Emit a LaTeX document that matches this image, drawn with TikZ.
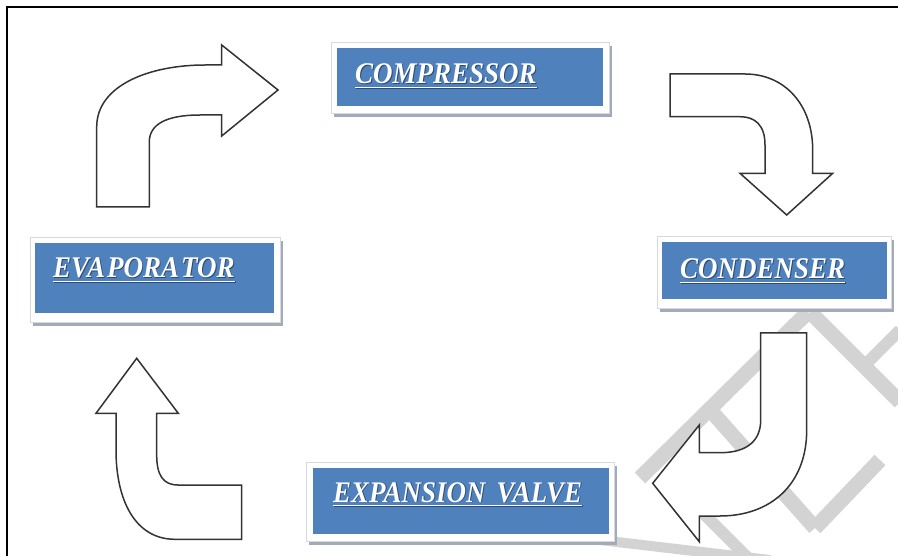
\documentclass[tikz,border=0pt]{standalone}
\usepackage{fontspec}
\newfontfamily\boxfont[FakeStretch=0.9]{Liberation Serif}
\definecolor{boxblue}{HTML}{4F81BD}
\definecolor{boxshade}{HTML}{A3ABB8}
\definecolor{boxedge}{HTML}{D6DAE0}
\definecolor{txtshade}{HTML}{2E4A72}
\definecolor{wmark}{HTML}{D3D3D3}
\tikzset{
  frameline/.style={line width=2pt, black},
  bluebox/.style={rectangle, fill=boxblue, inner sep=0pt},
  outerbox/.style={fill=white, draw=boxedge, line width=0.8pt},
  shadebox/.style={fill=boxshade},
  lbl/.style={inner sep=0pt, text=white, font=\boxfont\bfseries\itshape\fontsize{30}{32}\selectfont},
  lblshade/.style={lbl, text=txtshade},
  uline/.style={white, line width=1.6pt},
  ulineshade/.style={txtshade, line width=1.6pt},
  blockarrow/.style={fill=white, draw=black!80, line width=1.5pt, line join=miter},
  wm/.style={wmark, line width=15pt}
}
\begin{document}
\begin{tikzpicture}[x=1pt,y=-1pt]
\useasboundingbox (0,0) rectangle (898,556);
\fill[white] (0,0) rectangle (898,556);

% faint watermark strokes
\begin{scope}
\clip (0,0) rectangle (898,556);
\draw[wm] (640,478) -- (808,312);
\draw[wm] (810,312) -- (900,402);
\draw[wm, line width=12pt] (862,368) -- (900,330);
\draw[wm] (712,412) -- (815,528);
\draw[wm] (815,528) -- (880,460);
\draw[wm, line width=10pt] (600,540) -- (770,560);
\draw[wm, line width=12pt] (700,510) -- (750,560);
\end{scope}

% outer frame
\draw[frameline] (7,560) -- (7,7) -- (900,7);

% COMPRESSOR box
\fill[shadebox] (334,46) rectangle (612,117);
\filldraw[outerbox] (331,42) rectangle (609,113);
\node[bluebox, minimum width=266pt, minimum height=58pt] (compbox) at (470,77) {};
\node[lblshade, anchor=base west] (compsh) at (355.8,84.8) {COMPRESSOR};
\node[lbl, anchor=base west] (comp) at (355,84) {COMPRESSOR};
\draw[ulineshade] ([shift={(0.8pt,-4.2pt)}]comp.base west) -- ([shift={(0.8pt,-4.2pt)}]comp.base east);
\draw[uline] ([yshift=-3.4pt]comp.base west) -- ([yshift=-3.4pt]comp.base east);

% CONDENSER box
\fill[shadebox] (660,240) rectangle (894,312);
\filldraw[outerbox] (657,236) rectangle (891,308);
\node[bluebox, minimum width=225pt, minimum height=57pt] (condbox) at (774.5,270.5) {};
\node[lblshade, anchor=base west] (condsh) at (680.8,279.8) {CONDENSER};
\node[lbl, anchor=base west] (cond) at (680,279) {CONDENSER};
\draw[ulineshade] ([shift={(0.8pt,-4.2pt)}]cond.base west) -- ([shift={(0.8pt,-4.2pt)}]cond.base east);
\draw[uline] ([yshift=-3.4pt]cond.base west) -- ([yshift=-3.4pt]cond.base east);

% EVAPORATOR box
\fill[shadebox] (33,241) rectangle (283,326);
\filldraw[outerbox] (30,237) rectangle (280,322);
\node[bluebox, minimum width=239pt, minimum height=70pt] (evapbox) at (154.5,278) {};
\node[lblshade, anchor=base west] (evapsh) at (53.8,278.8) {EVA\kern2pt PORA\kern2pt TOR};
\node[lbl, anchor=base west] (evap) at (53,278) {EVA\kern2pt PORA\kern2pt TOR};
\draw[ulineshade] ([shift={(0.8pt,-4.2pt)}]evap.base west) -- ([shift={(0.8pt,-4.2pt)}]evap.base east);
\draw[uline] ([yshift=-3.4pt]evap.base west) -- ([yshift=-3.4pt]evap.base east);

% EXPANSION VALVE box
\fill[shadebox] (309,466) rectangle (617,545);
\filldraw[outerbox] (306,462) rectangle (614,541);
\node[bluebox, minimum width=296pt, minimum height=66pt] (expbox) at (461,501) {};
\node[lblshade, anchor=base west] (expsh) at (333.8,502.8) {EXPANSION\hspace{11pt}VALVE};
\node[lbl, anchor=base west] (exp) at (333,502) {EXPANSION\hspace{11pt}VALVE};
\draw[ulineshade] ([shift={(0.8pt,-4.2pt)}]exp.base west) -- ([shift={(0.8pt,-4.2pt)}]exp.base east);
\draw[uline] ([yshift=-3.4pt]exp.base west) -- ([yshift=-3.4pt]exp.base east);

% block arrow: evaporator up and over to compressor
\draw[blockarrow] (96.7,207) -- (96.7,127)
  .. controls (96.7,85) and (150,65) .. (205,65) -- (221.7,65) -- (221.7,45)
  -- (278,90) -- (221.7,136) -- (221.7,115) -- (200,115)
  .. controls (165,115) and (149.3,125) .. (149.3,142) -- (149.3,207) -- cycle;

% block arrow: compressor across and down to condenser
\draw[blockarrow] (670,74) -- (745,74)
  .. controls (785,74) and (812.7,105) .. (812.7,150) -- (812.7,173.3) -- (832.7,173.3)
  -- (786.7,215) -- (740,173.3) -- (765,173.3) -- (765,145)
  .. controls (765,125) and (755,116.7) .. (740,116.7) -- (670,116.7) -- cycle;

% block arrow: condenser down and back to expansion valve
\draw[blockarrow] (760.7,333) -- (806.7,333) -- (806.7,430)
  .. controls (806.7,485) and (770,516) .. (720,516) -- (699.3,516) -- (699.3,541.7)
  -- (652.7,483.3) -- (699.3,425) -- (699.3,452.7) -- (720,452.7)
  .. controls (748,452.7) and (760.7,440) .. (760.7,420) -- cycle;

% block arrow: expansion valve across and up to evaporator
\draw[blockarrow] (241.7,485) -- (241.7,539.3) -- (175,539.3)
  .. controls (135,539.3) and (116,500) .. (116,450) -- (116,413.3) -- (96,413.3)
  -- (136.7,358.3) -- (178.3,413.3) -- (156.7,413.3) -- (156.7,455)
  .. controls (156.7,475) and (163,485) .. (178,485) -- cycle;
\end{tikzpicture}
\end{document}
